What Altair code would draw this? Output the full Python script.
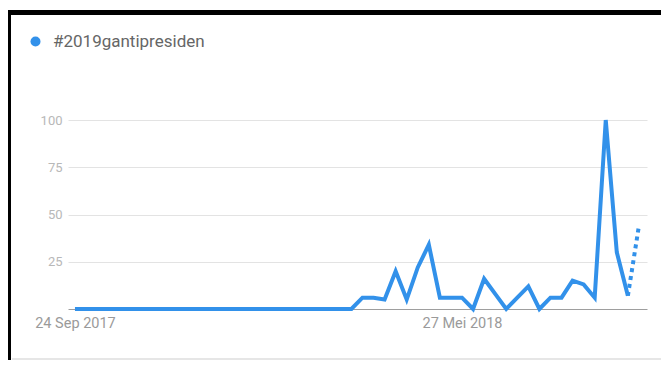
import altair as alt
import pandas as pd

# ---- data ----
series_name = "#2019gantipresiden"
week_index = list(range(52))  # weekly points starting 24 Sep 2017
values = [0] * 26 + [6, 6, 5, 20, 5, 22, 34, 6, 6, 6, 0, 16, 8, 0, 6, 12, 0,
                     6, 6, 15, 13, 6, 100, 30, 7, 44]
tick_weeks = [0, 35]
tick_labels = ["24 Sep 2017", "27 Mei 2018"]
y_ticks = [25, 50, 75, 100]

BLUE = "#3291ea"
FONT = "Roboto"

df = pd.DataFrame({"week": week_index, "value": values, "series": series_name})
solid = df.iloc[:51]
dotted = df.iloc[50:52]

label_expr = " : ".join(
    f"datum.value == {w} ? '{t}'" for w, t in zip(tick_weeks, tick_labels)
) + " : ''"

x_enc = alt.X(
    "week:Q",
    scale=alt.Scale(domain=[-0.63, 51.73], nice=False, zero=False),
    axis=alt.Axis(values=tick_weeks, labelExpr=label_expr, title=None, grid=False,
                  ticks=False, domainColor="#9e9e9e", domainWidth=1,
                  labelColor="#9a9a9a", labelFontSize=14.5, labelFont=FONT,
                  labelPadding=7, labelFlush=False),
)
y_enc = alt.Y(
    "value:Q",
    scale=alt.Scale(domain=[0, 100], nice=False),
    axis=alt.Axis(values=y_ticks, title=None, ticks=False, domain=False,
                  gridColor="#e3e3e3", gridWidth=1, labelColor="#b8b8b8",
                  labelFontSize=13, labelFont=FONT, labelPadding=6),
)
color_enc = alt.Color(
    "series:N",
    scale=alt.Scale(domain=[series_name], range=[BLUE]),
    legend=alt.Legend(orient="none", legendX=-41, legendY=-87, title=None,
                      symbolType="circle", symbolSize=100, symbolFillColor=BLUE,
                      symbolStrokeWidth=0, labelFontSize=17, labelFont=FONT,
                      labelColor="#666666", labelOffset=9, padding=0),
)

line_solid = alt.Chart(solid).mark_line(strokeWidth=4, strokeJoin="miter").encode(
    x=x_enc, y=y_enc, color=color_enc)
line_dotted = alt.Chart(dotted).mark_line(strokeWidth=4, strokeDash=[4, 4]).encode(
    x="week:Q", y="value:Q", color=color_enc)

one = alt.Data(values=[{}])
top_border = alt.Chart(one).mark_rule(color="black", strokeWidth=5).encode(
    x=alt.value(-62), x2=alt.value(610), y=alt.value(-107.5))
left_border = alt.Chart(one).mark_rule(color="black", strokeWidth=4).encode(
    x=alt.value(-59), y=alt.value(-110), y2=alt.value(250))
bottom_line = alt.Chart(one).mark_rule(color="#e6e6e6", strokeWidth=2).encode(
    x=alt.value(-56), x2=alt.value(610), y=alt.value(239))

chart = alt.layer(line_solid, line_dotted, top_border, left_border, bottom_line).properties(
    width=579, height=189,
    autosize=alt.AutoSizeParams(type="none"),
    padding={"left": 60, "top": 112, "right": 14, "bottom": 51},
    background="white",
).configure_view(stroke=None)

chart.save("out.html", embed_options={"renderer": "svg", "actions": False})
